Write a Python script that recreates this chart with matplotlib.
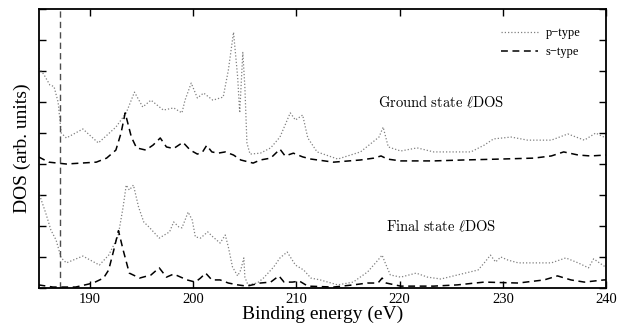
import matplotlib
matplotlib.use("Agg")
import matplotlib.pyplot as plt

plt.rcParams['font.family'] = ['Liberation Serif', 'DejaVu Serif']
plt.rcParams['mathtext.fontset'] = 'cm'

# Ground state p-type (offset included, offset = 4)
gp_x = [185.0, 185.5, 186.1, 186.5, 186.9, 187.2, 187.7, 189.3, 190.8, 192.5, 193.5, 194.3, 195.1, 195.9,
        197.1, 198.1, 198.9, 199.2, 199.8, 200.4, 201.0, 201.9, 202.9, 203.4, 203.9, 204.3, 204.5, 204.8,
        205.0, 205.2, 205.5, 206.5, 207.5, 208.4, 209.4, 209.9, 210.6, 211.1, 212.0, 214.0, 216.2, 218.0,
        218.4, 218.9, 220.1, 221.7, 223.3, 225.6, 226.9, 228.2, 229.1, 230.8, 232.4, 234.7, 236.3, 237.9,
        239.0, 239.8, 240.0]
gp_y = [7.1, 6.9, 6.55, 6.5, 6.0, 5.0, 4.84, 5.13, 4.68, 5.19, 5.65, 6.32, 5.84, 6.06,
        5.74, 5.81, 5.65, 6.06, 6.61, 6.13, 6.29, 6.06, 6.16, 7.03, 8.25, 6.81, 5.65, 7.6,
        6.48, 4.68, 4.32, 4.35, 4.52, 4.87, 5.65, 5.42, 5.58, 4.84, 4.39, 4.16, 4.39, 4.87,
        5.19, 4.55, 4.42, 4.52, 4.39, 4.39, 4.39, 4.61, 4.81, 4.87, 4.77, 4.77, 4.97, 4.77,
        5.0, 4.87, 4.85]

# Ground state s-type
gs_x = [185.0, 186.0, 187.7, 190.6, 191.6, 192.5, 193.0, 193.4, 194.0, 194.5, 195.4, 196.1, 196.8,
        197.4, 198.1, 199.0, 199.7, 200.4, 200.9, 201.3, 201.8, 202.4, 203.1, 203.9, 204.6, 205.8,
        206.5, 207.5, 208.0, 208.4, 208.9, 209.7, 210.6, 211.4, 213.6, 216.2, 217.5, 218.2, 218.8,
        220.1, 223.3, 226.2, 229.8, 233.0, 234.7, 235.9, 237.3, 238.5, 240.0]
gs_y = [4.23, 4.06, 4.0, 4.06, 4.19, 4.45, 5.0, 5.65, 4.87, 4.52, 4.45, 4.61, 4.84,
        4.55, 4.5, 4.7, 4.45, 4.32, 4.39, 4.6, 4.39, 4.35, 4.39, 4.29, 4.13, 4.03,
        4.13, 4.19, 4.35, 4.48, 4.26, 4.35, 4.23, 4.16, 4.06, 4.13, 4.19, 4.26, 4.16,
        4.1, 4.1, 4.13, 4.16, 4.19, 4.26, 4.39, 4.29, 4.26, 4.29]

# Final state p-type
fp_x = [185.0, 185.7, 186.2, 186.7, 187.2, 187.7, 189.3, 190.9, 191.8, 192.7, 193.2, 193.5, 193.8,
        194.2, 194.7, 195.2, 195.7, 196.7, 197.7, 198.1, 198.6, 198.9, 199.2, 199.5, 199.9, 200.2,
        200.7, 201.4, 201.9, 202.6, 203.1, 203.4, 203.8, 204.3, 204.6, 204.9, 205.0, 205.3, 206.2,
        206.8, 207.8, 208.4, 209.1, 209.9, 210.7, 211.4, 212.3, 214.0, 215.5, 216.9, 217.9, 218.3,
        218.6, 219.1, 220.1, 221.6, 222.7, 224.0, 225.6, 227.6, 228.2, 228.8, 229.3, 229.8, 230.5,
        231.5, 234.7, 236.1, 237.3, 238.3, 238.8, 239.8, 240.0]
fp_y = [3.1, 2.42, 1.87, 1.55, 0.97, 0.81, 1.03, 0.74, 1.06, 1.65, 2.61, 3.32, 3.16,
        3.32, 2.61, 2.13, 1.97, 1.61, 1.81, 2.13, 1.97, 1.94, 2.19, 2.45, 2.19, 1.65,
        1.61, 1.81, 1.65, 1.45, 1.71, 1.32, 0.68, 0.39, 0.58, 0.97, 0.35, 0.1, 0.16,
        0.32, 0.68, 0.97, 1.16, 0.74, 0.58, 0.32, 0.26, 0.1, 0.19, 0.52, 0.9, 1.06,
        0.81, 0.42, 0.35, 0.48, 0.35, 0.29, 0.42, 0.58, 0.81, 1.06, 0.84, 1.0, 0.9,
        0.81, 0.81, 0.97, 0.81, 0.65, 0.94, 0.71, 0.7]

# Final state s-type
fs_x = [185.0, 186.4, 188.6, 190.3, 191.3, 191.8, 192.3, 192.75, 193.2, 193.8, 194.8, 195.9, 196.7,
        197.4, 198.1, 199.4, 200.2, 200.7, 201.2, 201.8, 202.6, 203.4, 204.3, 205.2, 206.5, 207.5,
        208.3, 208.8, 209.6, 210.3, 211.1, 213.6, 215.5, 216.9, 217.9, 218.3, 218.7, 220.1, 223.3,
        225.6, 228.2, 231.5, 234.0, 235.3, 236.6, 237.9, 239.8, 240.0]
fs_y = [0.1, 0.03, 0.03, 0.16, 0.32, 0.58, 1.23, 1.85, 1.23, 0.48, 0.32, 0.42, 0.65,
        0.35, 0.45, 0.26, 0.19, 0.32, 0.48, 0.26, 0.26, 0.16, 0.1, 0.06, 0.16, 0.19,
        0.39, 0.19, 0.19, 0.22, 0.06, 0.03, 0.1, 0.16, 0.16, 0.32, 0.16, 0.06, 0.06,
        0.1, 0.19, 0.16, 0.26, 0.39, 0.26, 0.19, 0.26, 0.26]

edge_x = 187.1
x_ticks = [190, 200, 210, 220, 230, 240]
y_ticks = list(range(0, 10))

fig = plt.figure(figsize=(6.18, 3.23), dpi=100)
ax = fig.add_axes([0.0623, 0.1084, 0.9183, 0.8636])

dot = (0, (1, 1.6))
dash = (0, (4.5, 3))
ax.plot(gp_x, gp_y, color='0.5', lw=0.9, linestyle=dot, label='p\u2212type')
ax.plot(gs_x, gs_y, color='black', lw=1.1, linestyle=dash, label='s\u2212type')
ax.plot(fp_x, fp_y, color='0.5', lw=0.9, linestyle=dot)
ax.plot(fs_x, fs_y, color='black', lw=1.1, linestyle=dash)
ax.axvline(edge_x, color='0.3', lw=1.0, linestyle=(0, (4.5, 3)))

ax.set_xlim(185, 240)
ax.set_ylim(0, 9)
ax.set_xticks(x_ticks)
ax.set_yticks(y_ticks)
ax.set_yticklabels([])
ax.tick_params(direction='in', top=True, right=True, length=5, width=1, labelsize=10.5, pad=3.5)
for s in ax.spines.values():
    s.set_linewidth(1.3)

ax.set_xlabel('Binding energy (eV)', fontsize=14, labelpad=0)
ax.set_ylabel('DOS (arb. units)', fontsize=14, labelpad=2)

ax.text(224.0, 6.0, r'$\mathrm{Ground\ state\ }\ell\mathrm{DOS}$', fontsize=10.5,
        ha='center', va='center')
ax.text(224.0, 1.97, r'$\mathrm{Final\ state\ }\ell\mathrm{DOS}$', fontsize=10.5,
        ha='center', va='center')

leg = ax.legend(loc='upper right', frameon=False, fontsize=9, handlelength=3.0,
                bbox_to_anchor=(0.975, 0.975), labelspacing=0.55, handletextpad=0.6)

fig.savefig('out.png', dpi=100)
